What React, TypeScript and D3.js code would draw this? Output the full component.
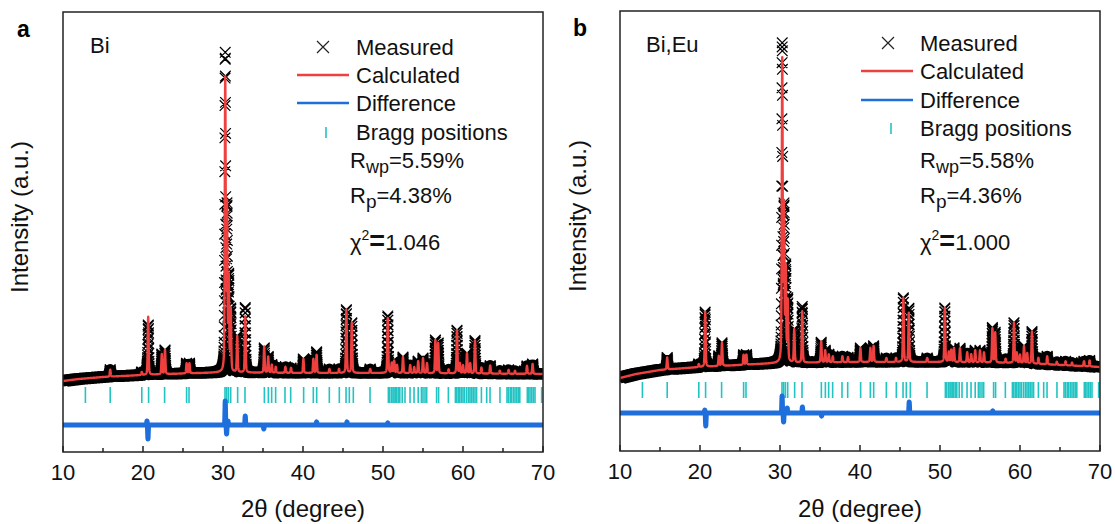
import React, { useMemo } from "react";
import * as d3 from "d3";

// ---------- data ----------
const xTickValues = [10, 20, 30, 40, 50, 60, 70];
const xMinorTickValues = [15, 25, 35, 45, 55, 65];

const braggPositions = [
  12.8, 15.9, 19.85, 20.7, 22.7, 25.45, 25.75, 30.25, 30.45, 30.67, 30.96, 31.83, 32.75,
  35.17, 35.67, 36.08, 36.58, 37.75, 38.46, 40.08, 41.29, 41.71, 43.29, 44.54, 45.38, 45.79,
  46.29, 48.38, 50.67, 50.85, 51.08, 51.25, 51.38, 51.55, 51.7, 51.9, 52.1, 52.4, 52.75,
  53.38, 53.88, 54.4, 54.8, 55.0, 55.25, 55.46, 56.7, 56.95, 58.17, 59.05, 59.2, 59.4, 59.6,
  59.8, 60.0, 60.2, 60.46, 60.7, 60.88, 61.1, 61.29, 61.5, 61.7, 62.3, 62.96, 63.38, 64.62,
  65.5, 65.67, 65.9, 66.08, 66.3, 66.5, 66.7, 66.9, 67.1, 68.04, 68.2, 68.38, 68.6, 68.8,
  69.0, 69.83,
];

const backgroundAngles = [10, 12, 15, 20, 25, 30, 40, 50, 60, 70];
const backgroundBi = [710, 730, 750, 770, 785, 795, 790, 790, 785, 780];
const backgroundBiEu = [730, 770, 810, 840, 860, 880, 890, 890, 880, 840];

const peakAngles = [
  15.9, 19.85, 20.65, 22.35, 22.75, 25.45, 25.8, 30.28, 30.5, 30.72, 30.97, 31.78, 32.78,
  35.15, 35.65, 36.1, 36.6, 37.8, 38.5, 40.05, 41.3, 41.7, 43.3, 44.5, 45.42, 46.1, 48.4,
  50.6, 51.1, 51.4, 51.75, 52.5, 53.4, 53.9, 54.4, 55.0, 55.5, 56.55, 56.9, 58.2, 59.25,
  59.6, 60.0, 60.5, 60.9, 61.5, 62.3, 63.4, 64.6, 65.7, 66.5, 68.0, 68.7,
];
const peakHeightsBi = [
  70, 30, 580, 200, 240, 100, 100, 2900, 1600, 900, 600, 360, 560,
  260, 160, 80, 60, 60, 50, 140, 140, 180, 40, 40, 630, 500, 40,
  550, 100, 120, 80, 160, 80, 60, 120, 150, 100, 330, 300, 40, 430,
  100, 80, 200, 100, 330, 60, 80, 30, 40, 30, 80, 100,
];
const peakHeightsBiEu = [
  120, 30, 550, 100, 230, 100, 100, 3000, 1500, 900, 600, 330, 510,
  210, 120, 80, 60, 60, 50, 140, 140, 160, 40, 40, 640, 490, 40,
  540, 100, 120, 140, 140, 100, 80, 120, 120, 100, 340, 300, 40, 400,
  100, 80, 170, 100, 320, 60, 80, 30, 40, 30, 50, 60,
];

const diffAnglesBi = [20.5, 20.62, 30.28, 30.45, 30.62, 32.78, 35.1, 41.7, 45.5, 50.6];
const diffAmpsBi = [40, -140, 240, -90, 40, 90, -40, 30, 30, 20];
const diffAnglesBiEu = [20.6, 20.72, 30.26, 30.45, 30.9, 32.8, 35.2, 46.15, 56.6];
const diffAmpsBiEu = [30, -130, 170, -90, 50, 60, -30, 110, 20];

const sampleNames = ["Bi", "Bi,Eu"];
const panelLetters = ["a", "b"];
const rwpValues = ["5.59%", "5.58%"];
const rpValues = ["4.38%", "4.36%"];
const chi2Values = ["1.046", "1.000"];
const legendLabels = ["Measured", "Calculated", "Difference", "Bragg positions"];

// ---------- constants ----------
const STEP = 0.01;
const PEAK_FWHM = 0.13;
const ETA = 0.4;
const DIFF_FWHM = 0.08;
const FONT = "'Liberation Sans', Arial, Helvetica, sans-serif";
const RED = "#EF4040";
const BLUE = "#1E6FDC";
const CYAN = "#22C3C3";
const AXIS = "#222";

function profile(a: number, pos: number[], h: number[], fwhm: number, eta: number) {
  let s = 0;
  const hw = fwhm / 2;
  for (let i = 0; i < pos.length; i++) {
    const d = (a - pos[i]) / hw;
    if (Math.abs(d) > 80) continue;
    s += h[i] * (eta / (1 + d * d) + (1 - eta) * Math.exp(-Math.LN2 * d * d));
  }
  return s;
}

type PanelCfg = {
  idx: number;
  left: number; right: number; top: number; bottom: number;
  heights: number[]; background: number[];
  diffA: number[]; diffH: number[]; diffOffset: number;
  braggTop: number; braggBottom: number;
  letterX: number; letterY: number;
  sampleX: number; sampleY: number;
  legMarkX: number; legLineX0: number; legLineX1: number; legTextX: number; legRows: number[];
  statX: number; statRows: number[];
  yLabelX: number;
};

function Panel({ cfg }: { cfg: PanelCfg }) {
  const x = d3.scaleLinear().domain([10, 70]).range([cfg.left, cfg.right]);
  const y = d3.scaleLinear().domain([0, 4400]).range([cfg.bottom, cfg.top]);
  const bg = d3.scaleLinear().domain(backgroundAngles).range(cfg.background);

  const data = useMemo(() => {
    const n = Math.round((70 - 10) / STEP);
    return d3.range(0, n + 1).map((i) => {
      const a = 10 + i * STEP;
      const b = bg(a);
      const calc = b + profile(a, peakAngles, cfg.heights, PEAK_FWHM, ETA);
      const diff = profile(a, cfg.diffA, cfg.diffH, DIFF_FWHM, 0);
      return { a, b, calc, meas: calc + diff, diff };
    });
  }, [cfg]);

  const calcLine = d3.line<any>().x((d) => x(d.a)).y((d) => y(d.calc))(data) || "";
  const bandLine = d3.line<any>().x((d) => x(d.a)).y((d) => y(Math.min(d.meas, d.b + 90)))(data) || "";
  const diffLine = d3.line<any>().x((d) => x(d.a)).y((d) => y(cfg.diffOffset + d.diff))(data) || "";
  const r = 5.3;
  let crosses = "";
  data.forEach((d, k) => {
    // dense markers on flanks, sparser on flat background
    if (k % 2 === 1 && d.meas - d.b < 60) return;
    const px = x(d.a), py = y(d.meas);
    crosses += `M${(px - r).toFixed(2)},${(py - r).toFixed(2)}L${(px + r).toFixed(2)},${(py + r).toFixed(2)}M${(px - r).toFixed(2)},${(py + r).toFixed(2)}L${(px + r).toFixed(2)},${(py - r).toFixed(2)}`;
  });
  const clipId = `clip-${cfg.idx}`;
  const i = cfg.idx;
  const fs = 22;
  const midX = (cfg.left + cfg.right) / 2;
  const midY = (cfg.top + cfg.bottom) / 2;

  return (
    <g fontFamily={FONT}>
      <defs>
        <clipPath id={clipId}>
          <rect x={cfg.left} y={cfg.top} width={cfg.right - cfg.left} height={cfg.bottom - cfg.top} />
        </clipPath>
      </defs>
      <g clipPath={`url(#${clipId})`}>
        <path d={bandLine} fill="none" stroke="#000" strokeWidth={11} strokeLinejoin="round" />
        <path d={crosses} fill="none" stroke="#000" strokeWidth={1.2} />
        <path d={calcLine} fill="none" stroke={RED} strokeWidth={2.4} strokeLinejoin="round" />
        {braggPositions.map((p, k) => (
          <line key={k} x1={x(p)} x2={x(p)} y1={y(cfg.braggTop)} y2={y(cfg.braggBottom)} stroke={CYAN} strokeWidth={1.6} />
        ))}
        <path d={diffLine} fill="none" stroke={BLUE} strokeWidth={5} strokeLinejoin="round" />
      </g>
      <rect x={cfg.left} y={cfg.top} width={cfg.right - cfg.left} height={cfg.bottom - cfg.top} fill="none" stroke={AXIS} strokeWidth={1.5} />
      {xTickValues.map((t) => (
        <g key={`t${t}`}>
          <line x1={x(t)} x2={x(t)} y1={cfg.bottom} y2={cfg.bottom - 6} stroke={AXIS} strokeWidth={1.5} />
          <text x={x(t)} y={cfg.bottom + 28} fontSize={22} textAnchor="middle" fill="#111">{t}</text>
        </g>
      ))}
      {xMinorTickValues.map((t) => (
        <line key={`m${t}`} x1={x(t)} x2={x(t)} y1={cfg.bottom} y2={cfg.bottom - 4} stroke={AXIS} strokeWidth={1.5} />
      ))}
      <text x={midX} y={517} fontSize={24} textAnchor="middle" fill="#111">2θ (degree)</text>
      <text transform={`translate(${cfg.yLabelX},${midY - 15}) rotate(-90)`} fontSize={24} textAnchor="middle" fill="#111">Intensity (a.u.)</text>
      <text x={cfg.letterX} y={cfg.letterY} fontSize={23} fontWeight="bold" fill="#000">{panelLetters[i]}</text>
      <text x={cfg.sampleX} y={cfg.sampleY} fontSize={fs} fill="#111">{sampleNames[i]}</text>
      <path d={`M${cfg.legMarkX - 6},${cfg.legRows[0] - 6}L${cfg.legMarkX + 6},${cfg.legRows[0] + 6}M${cfg.legMarkX - 6},${cfg.legRows[0] + 6}L${cfg.legMarkX + 6},${cfg.legRows[0] - 6}`} stroke="#222" strokeWidth={1.2} fill="none" />
      <line x1={cfg.legLineX0} x2={cfg.legLineX1} y1={cfg.legRows[1]} y2={cfg.legRows[1]} stroke={RED} strokeWidth={2.6} />
      <line x1={cfg.legLineX0} x2={cfg.legLineX1} y1={cfg.legRows[2]} y2={cfg.legRows[2]} stroke={BLUE} strokeWidth={2.6} />
      <line x1={cfg.legMarkX + 3} x2={cfg.legMarkX + 3} y1={cfg.legRows[3] - 5} y2={cfg.legRows[3] + 6} stroke={CYAN} strokeWidth={1.6} />
      {legendLabels.map((l, k) => (
        <text key={l} x={cfg.legTextX} y={cfg.legRows[k] + 8} fontSize={fs} fill="#111">{l}</text>
      ))}
      <text x={cfg.statX} y={cfg.statRows[0]} fontSize={fs} fill="#111">
        R<tspan fontSize={18} dy={5}>wp</tspan><tspan dy={-5}>={rwpValues[i]}</tspan>
      </text>
      <text x={cfg.statX} y={cfg.statRows[1]} fontSize={fs} fill="#111">
        R<tspan fontSize={19} dy={5}>p</tspan><tspan dy={-5}>={rpValues[i]}</tspan>
      </text>
      <text x={cfg.statX} y={cfg.statRows[2]} fontSize={fs} fill="#111">
        χ<tspan fontSize={14} dy={-10}>2</tspan><tspan dy={10} fontWeight="bold" fontSize={27}>=</tspan><tspan>{chi2Values[i]}</tspan>
      </text>
    </g>
  );
}

const panelA: PanelCfg = {
  idx: 0, left: 63, right: 543, top: 12, bottom: 452,
  heights: peakHeightsBi, background: backgroundBi,
  diffA: diffAnglesBi, diffH: diffAmpsBi, diffOffset: 270,
  braggTop: 650, braggBottom: 490,
  letterX: 17, letterY: 37, sampleX: 90, sampleY: 53,
  legMarkX: 323, legLineX0: 297, legLineX1: 349, legTextX: 356, legRows: [47, 75, 103, 132],
  statX: 350, statRows: [168, 203, 250], yLabelX: 28,
};
const panelB: PanelCfg = {
  idx: 1, left: 620, right: 1100, top: 11, bottom: 451,
  heights: peakHeightsBiEu, background: backgroundBiEu,
  diffA: diffAnglesBiEu, diffH: diffAmpsBiEu, diffOffset: 380,
  braggTop: 690, braggBottom: 530,
  letterX: 573, letterY: 36, sampleX: 646, sampleY: 52,
  legMarkX: 888, legLineX0: 861, legLineX1: 913, legTextX: 920, legRows: [43, 71, 100, 128],
  statX: 920, statRows: [168, 203, 250], yLabelX: 586,
};

export default function App() {
  return (
    <svg width={1115} height={524} viewBox="0 0 1115 524" style={{ position: "absolute", left: 0, top: 0, background: "#fff" }}>
      <rect x={0} y={0} width={1115} height={524} fill="#fff" />
      <Panel cfg={panelA} />
      <Panel cfg={panelB} />
    </svg>
  );
}
